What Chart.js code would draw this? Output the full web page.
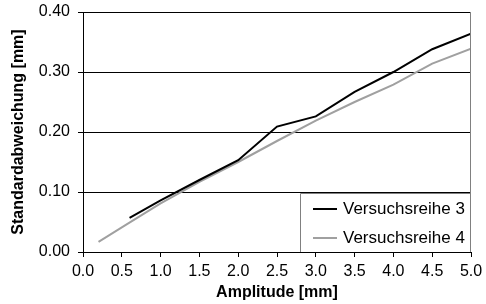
<!DOCTYPE html>
<html>
<head>
<meta charset="utf-8">
<script src="https://cdn.jsdelivr.net/npm/chart.js@4/dist/chart.umd.min.js"></script>
<style>
  body { margin: 0; background: #fff; }
  #wrap { width: 486px; height: 304px; }
</style>
</head>
<body>
<div id="wrap"><canvas id="chart" width="486" height="304"></canvas></div>
<script>
// values
const seriesNames = ['Versuchsreihe 3', 'Versuchsreihe 4'];
const ampl3 = [0.6, 1.0, 1.5, 2.0, 2.5, 3.0, 3.5, 4.0, 4.5, 5.0];
const std3 = [0.057, 0.086, 0.120, 0.153, 0.209, 0.226, 0.267, 0.300, 0.338, 0.364];
const ampl4 = [0.2, 0.5, 1.0, 1.5, 2.0, 2.5, 3.0, 3.5, 4.0, 4.5, 5.0];
const std4 = [0.017, 0.041, 0.081, 0.117, 0.150, 0.185, 0.219, 0.250, 0.279, 0.314, 0.339];
const xTitle = 'Amplitude [mm]';
const yTitle = 'Standardabweichung [mm]';

const toPoints = (xs, ys) => xs.map((x, i) => ({ x: x, y: ys[i] }));
const fontName = '"Liberation Sans", Arial, sans-serif';

// legend box sitting in the lower right corner of the plot
const boxLegend = {
  id: 'boxLegend',
  afterDraw(chart) {
    const { ctx, chartArea } = chart;
    const w = 171, h = 59;
    const x0 = chartArea.right - w, y0 = chartArea.bottom - h;
    ctx.save();
    ctx.fillStyle = '#fff';
    ctx.fillRect(x0, y0, w, h);
    ctx.strokeStyle = '#808080';
    ctx.lineWidth = 1;
    ctx.beginPath();
    ctx.moveTo(x0 + 0.5, chartArea.bottom);
    ctx.lineTo(x0 + 0.5, y0 + 0.5);
    ctx.lineTo(chartArea.right, y0 + 0.5);
    ctx.stroke();
    // right border of the plot
    ctx.beginPath();
    ctx.moveTo(chartArea.right - 0.5, chartArea.top);
    ctx.lineTo(chartArea.right - 0.5, chartArea.bottom);
    ctx.stroke();

    ctx.font = '17px ' + fontName;
    ctx.textBaseline = 'middle';
    chart.data.datasets.forEach((ds, i) => {
      const y = y0 + 16 + i * 29;
      ctx.strokeStyle = ds.borderColor;
      ctx.lineWidth = 2;
      ctx.beginPath();
      ctx.moveTo(x0 + 13, y);
      ctx.lineTo(x0 + 37, y);
      ctx.stroke();
      ctx.fillStyle = '#000';
      ctx.fillText(ds.label, x0 + 43, y);
    });
    ctx.restore();
  }
};

new Chart(document.getElementById('chart'), {
  type: 'line',
  data: {
    datasets: [
      {
        label: seriesNames[0],
        data: toPoints(ampl3, std3),
        borderColor: '#000',
        borderWidth: 2,
        pointRadius: 0,
        tension: 0,
      },
      {
        label: seriesNames[1],
        data: toPoints(ampl4, std4),
        borderColor: '#a0a0a0',
        borderWidth: 2,
        pointRadius: 0,
        tension: 0,
      },
    ],
  },
  options: {
    responsive: false,
    animation: false,
    layout: { padding: { top: 12, right: 15, left: 0, bottom: 0 } },
    plugins: {
      legend: { display: false },
      tooltip: { enabled: false },
    },
    scales: {
      x: {
        type: 'linear',
        min: 0,
        max: 5,
        afterFit: (scale) => {
          scale.height = 52;
          scale.paddingLeft = 0;
          scale.paddingRight = 0;
        },
        ticks: {
          stepSize: 0.5,
          color: '#000',
          padding: 5,
          maxRotation: 0,
          font: { family: fontName, size: 16 },
          callback: (v) => v.toFixed(1),
        },
        grid: { drawOnChartArea: false, tickLength: 5, tickColor: '#000' },
        border: { color: '#000', width: 1 },
        title: {
          display: true,
          text: xTitle,
          color: '#000',
          font: { family: fontName, size: 16, weight: 'bold' },
          padding: { top: 0, bottom: 2 },
        },
      },
      y: {
        min: 0,
        max: 0.4,
        afterFit: (scale) => {
          scale.width = 83;
          scale.paddingTop = 0;
          scale.paddingBottom = 0;
        },
        ticks: {
          stepSize: 0.1,
          color: '#000',
          padding: 8,
          font: { family: fontName, size: 16 },
          callback: (v) => v.toFixed(2),
        },
        grid: { color: '#000', tickLength: 5, tickColor: '#000' },
        border: { color: '#000', width: 1 },
        title: {
          display: true,
          text: yTitle,
          color: '#000',
          font: { family: fontName, size: 16, weight: 'bold' },
          padding: { top: 9, bottom: 0 },
        },
      },
    },
  },
  plugins: [boxLegend],
});
</script>
</body>
</html>
